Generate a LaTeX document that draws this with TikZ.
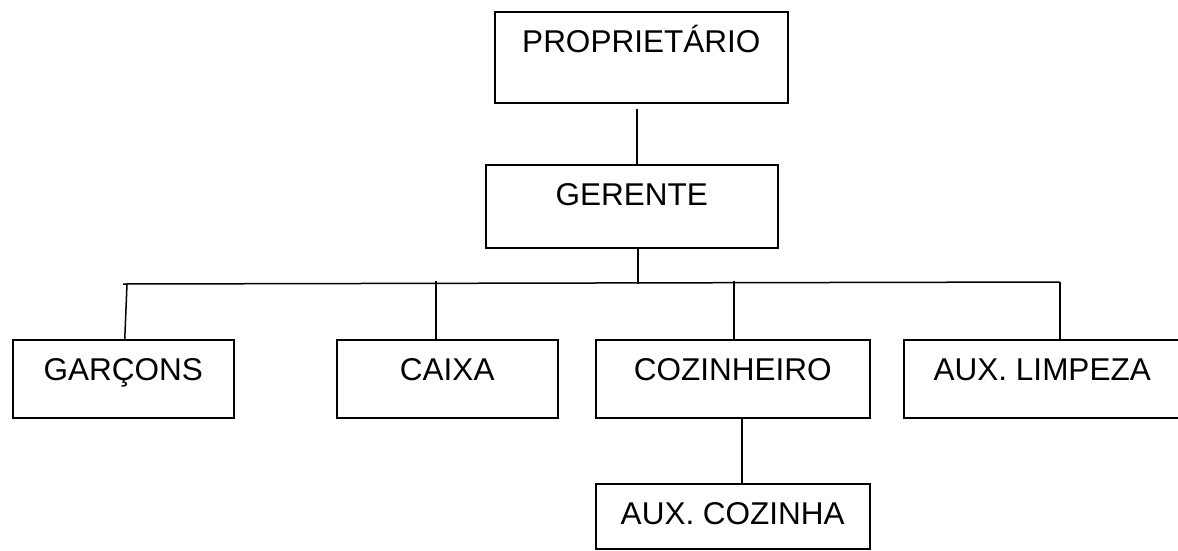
\documentclass[tikz,border=0pt]{standalone}
\usepackage{fontspec}
\setmainfont{Liberation Sans}
\usepackage{tikz}
\usetikzlibrary{positioning}
\tikzset{
    orgbox/.style={draw, line width=1.5pt, inner sep=0pt, anchor=north west,
        text height=41pt, font=\fontsize{31.5}{36}\selectfont},
    link/.style={line width=1.5pt}
}

\begin{document}
\begin{tikzpicture}[x=1pt, y=-1pt]
    \path[use as bounding box, fill=white] (0,0) rectangle (1178,550);
    \node[orgbox, minimum width=293pt, text depth=50pt] (prop) at (494,11) {PROPRIETÁRIO};
    \node[orgbox, minimum width=292pt, text depth=42pt] (ger) at (485,164) {GERENTE};
    \node[orgbox, minimum width=221pt, text depth=37pt] (garcons) at (12,339) {GARÇONS};
    \node[orgbox, minimum width=221pt, text depth=37pt] (caixa) at (336,339) {CAIXA};
    \node[orgbox, minimum width=274pt, text depth=37pt] (coz) at (595,339) {COZINHEIRO};
    \node[orgbox, minimum width=277pt, text depth=37pt] (limp) at (903,339) {AUX. LIMPEZA};
    \node[orgbox, minimum width=274pt, text depth=24pt] (auxcoz) at (595,483) {AUX. COZINHA};
    \coordinate (busL) at (123,284);
    \coordinate (busR) at (1060,282);
    \draw[link] (busL) -- (busR);
    \draw[link] ([xshift=-4.5pt,yshift=-5pt]prop.south) -- ([xshift=5pt]ger.north);
    \draw[link] ([xshift=6pt]ger.south) -- ([xshift=6pt]ger.south |- busL);
    \draw[link] ([xshift=4pt]busL) -- ([xshift=1.5pt]garcons.north);
    \draw[link] ([xshift=-11.5pt,yshift=1pt]caixa.north |- busR) -- ([xshift=-11.5pt]caixa.north);
    \draw[link] ([xshift=1pt,yshift=1pt]coz.north |- busR) -- ([xshift=1pt]coz.north);
    \draw[link] (busR) -- (busR |- limp.north);
    \draw[link] ([xshift=9pt]coz.south) -- ([xshift=9pt]auxcoz.north);
\end{tikzpicture}
\end{document}
